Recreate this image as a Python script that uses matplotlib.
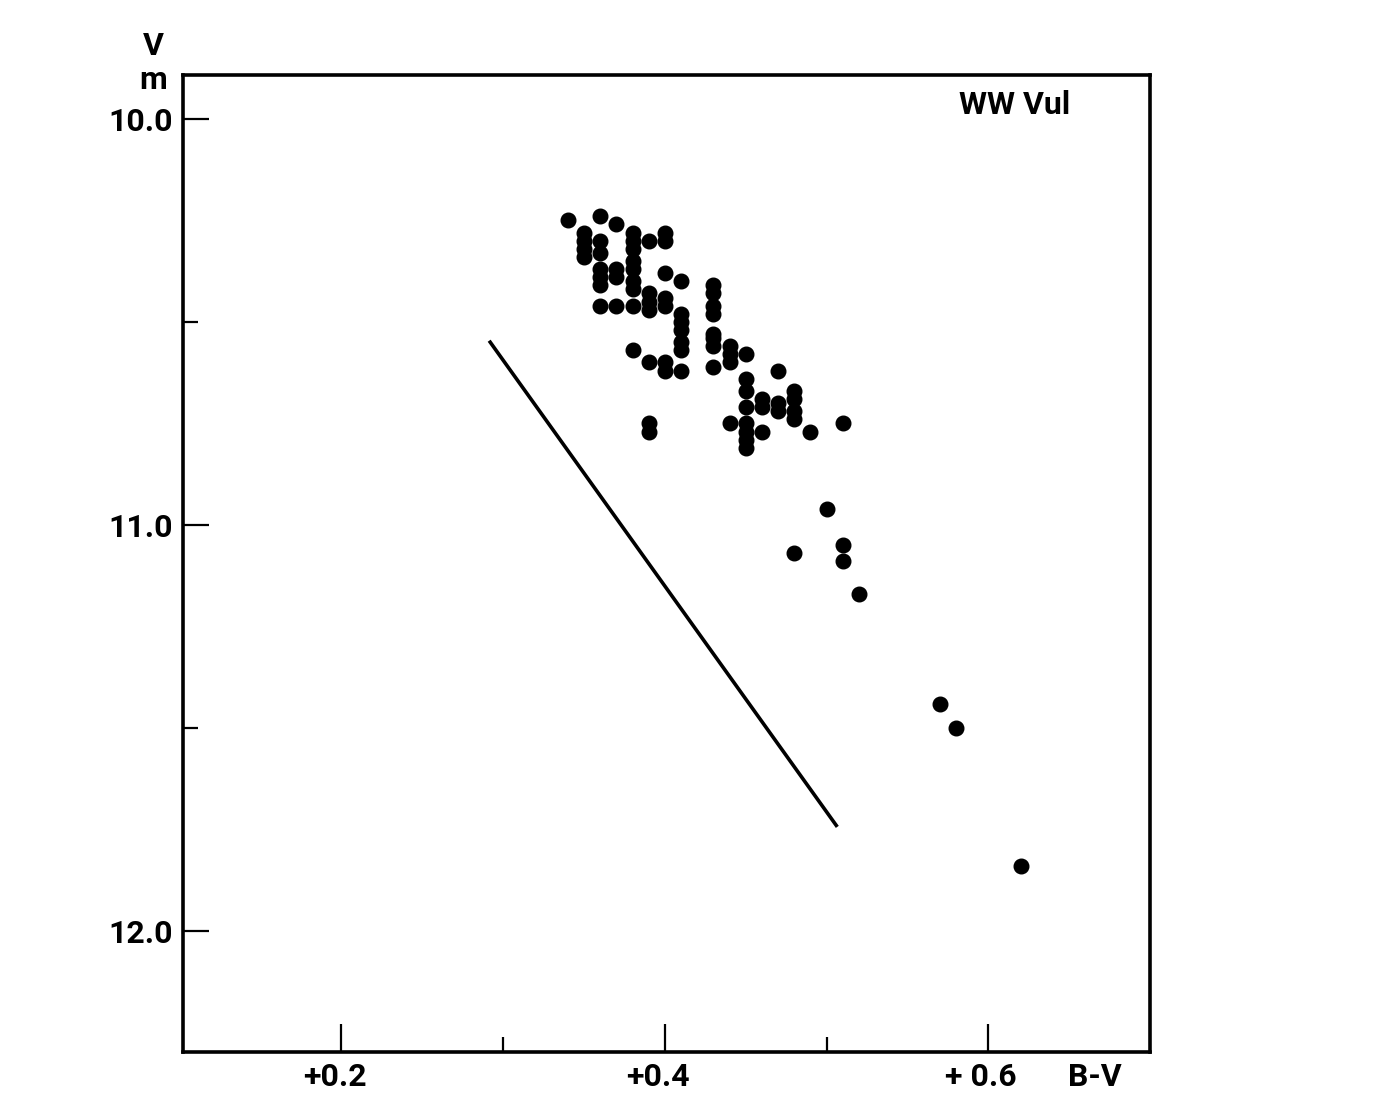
import matplotlib.pyplot as plt
import matplotlib.transforms as mtrans
import numpy as np

plt.rcParams['font.family'] = ['Roboto', 'DejaVu Sans']

# B-V colour and V magnitude
bv = [0.34, 0.36, 0.37,
      0.35, 0.35, 0.35, 0.35,
      0.36, 0.36, 0.36, 0.36, 0.36, 0.36,
      0.37, 0.37, 0.37,
      0.38, 0.38, 0.38, 0.38, 0.38, 0.38, 0.38, 0.38, 0.38,
      0.39, 0.39, 0.39, 0.39, 0.39, 0.39, 0.39,
      0.40, 0.40, 0.40, 0.40, 0.40, 0.40, 0.40,
      0.41, 0.41, 0.41, 0.41, 0.41, 0.41, 0.41,
      0.43, 0.43, 0.43, 0.43, 0.43, 0.43, 0.43, 0.43,
      0.44, 0.44, 0.44, 0.44,
      0.45, 0.45, 0.45, 0.45, 0.45, 0.45, 0.45, 0.45,
      0.46, 0.46, 0.46,
      0.47, 0.47, 0.47,
      0.48, 0.48, 0.48, 0.48, 0.48,
      0.49, 0.50, 0.51, 0.51, 0.51, 0.52,
      0.57, 0.58, 0.62]
vmag = [10.25, 10.24, 10.26,
        10.28, 10.30, 10.32, 10.34,
        10.30, 10.33, 10.37, 10.39, 10.41, 10.46,
        10.37, 10.39, 10.46,
        10.28, 10.30, 10.32, 10.35, 10.37, 10.40, 10.42, 10.46, 10.57,
        10.30, 10.43, 10.45, 10.47, 10.60, 10.75, 10.77,
        10.28, 10.30, 10.38, 10.44, 10.46, 10.60, 10.62,
        10.40, 10.48, 10.50, 10.52, 10.55, 10.57, 10.62,
        10.41, 10.43, 10.46, 10.48, 10.53, 10.54, 10.56, 10.61,
        10.56, 10.58, 10.60, 10.75,
        10.58, 10.64, 10.67, 10.71, 10.75, 10.77, 10.79, 10.81,
        10.69, 10.71, 10.77,
        10.62, 10.70, 10.72,
        10.67, 10.69, 10.72, 10.74, 11.07,
        10.77, 10.96, 10.75, 11.05, 11.09, 11.17,
        11.44, 11.50, 11.84]

# reference line
line_bv = [0.292, 0.506]
line_v = [10.55, 11.74]

xticks = [0.2, 0.4, 0.6]
xlabels = ['+0.2', '+0.4', '+ 0.6']
yticks = [10.0, 11.0, 12.0]
ylabels = ['10.0', '11.0', '12.0']

fig = plt.figure(figsize=(13.8, 10.98), dpi=100)
ax = fig.add_axes([0.1326, 0.0419, 0.7007, 0.8898])

ax.plot(bv, vmag, 'o', color='black', ms=10.5, mec='black')
ax.plot(line_bv, line_v, '-', color='black', lw=2.6)

ax.set_xlim(0.102, 0.700)
ax.set_ylim(12.298, 9.892)

ax.set_xticks(xticks)
ax.set_xticklabels(xlabels)
ax.set_xticks([0.3, 0.5], minor=True)
ax.set_yticks(yticks)
ax.set_yticklabels(ylabels)
ax.set_yticks([10.5, 11.5], minor=True)

ax.tick_params(which='both', direction='in', width=1.6, labelsize=23, pad=7)
ax.tick_params(axis='x', which='major', length=20)
ax.tick_params(axis='y', which='major', length=19)
ax.tick_params(which='minor', length=11)
ax.tick_params(top=False, right=False)
for lab in ax.get_xticklabels() + ax.get_yticklabels():
    lab.set_fontweight('bold')
# the plus sign pushes the printed labels slightly left of their ticks
shift = mtrans.ScaledTranslation(-7 / 100, 0, fig.dpi_scale_trans)
for lab in ax.get_xticklabels():
    lab.set_transform(lab.get_transform() + shift)

for s in ax.spines.values():
    s.set_linewidth(2.6)

ax.set_xlabel('B-V', fontsize=23, fontweight='bold')
ax.xaxis.set_label_coords(0.943, -0.010)
ax.xaxis.label.set_va('top')
ax.set_ylabel('V\nm', fontsize=23, fontweight='bold', rotation=0, linespacing=1.15)
ax.yaxis.set_label_coords(-0.031, 1.012)
ax.yaxis.label.set_va('center')

ax.text(0.860, 0.969, 'WW Vul', transform=ax.transAxes, fontsize=23,
        fontweight='bold', ha='center', va='center')

fig.savefig('out.png', dpi=100)
